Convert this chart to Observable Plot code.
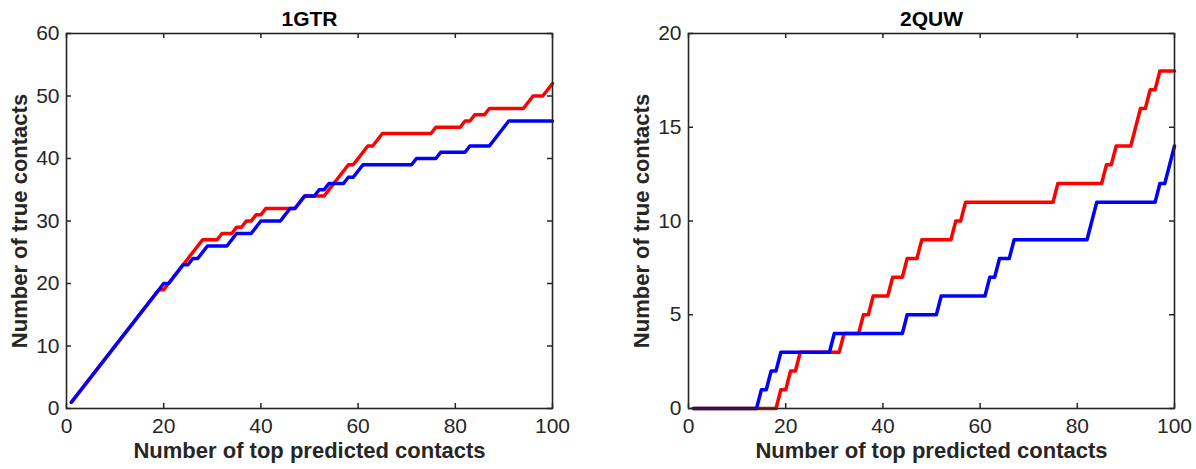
<!DOCTYPE html>
<html><head><meta charset="utf-8">
<script src="https://cdn.jsdelivr.net/npm/d3@7"></script>
<script src="https://cdn.jsdelivr.net/npm/@observablehq/plot@0.6"></script>
<style>
html,body{margin:0;padding:0;background:#fff;}
#wrap{position:relative;width:1196px;height:469px;overflow:hidden;background:#fff;}
#wrap svg{position:absolute;top:0;}
</style></head><body><div id="wrap"></div>
<script>
const topN = [1,2,3,4,5,6,7,8,9,10,11,12,13,14,15,16,17,18,19,20,21,22,23,24,25,26,27,28,29,30,31,32,33,34,35,36,37,38,39,40,41,42,43,44,45,46,47,48,49,50,51,52,53,54,55,56,57,58,59,60,61,62,63,64,65,66,67,68,69,70,71,72,73,74,75,76,77,78,79,80,81,82,83,84,85,86,87,88,89,90,91,92,93,94,95,96,97,98,99,100];

const gtrRed = [1,2,3,4,5,6,7,8,9,10,11,12,13,14,15,16,17,18,19,19,
  20,21,22,23,24,25,26,27,27,27,27,28,28,28,29,29,30,30,31,31,
  32,32,32,32,32,32,32,33,34,34,34,34,34,35,36,37,38,39,39,40,
  41,42,42,43,44,44,44,44,44,44,44,44,44,44,44,45,45,45,45,45,
  45,46,46,47,47,47,48,48,48,48,48,48,48,48,49,50,50,50,51,52];

const gtrBlue = [1,2,3,4,5,6,7,8,9,10,11,12,13,14,15,16,17,18,19,20,
  20,21,22,23,23,24,24,25,26,26,26,26,26,27,28,28,28,28,29,30,
  30,30,30,30,31,32,32,33,34,34,34,35,35,36,36,36,36,37,37,38,
  39,39,39,39,39,39,39,39,39,39,39,40,40,40,40,40,41,41,41,41,
  41,41,42,42,42,42,42,43,44,45,46,46,46,46,46,46,46,46,46,46];

const quwRed = [0,0,0,0,0,0,0,0,0,0,0,0,0,0,0,0,0,0,1,1,
  2,2,3,3,3,3,3,3,3,3,3,4,4,4,4,5,5,6,6,6,
  6,7,7,7,8,8,8,9,9,9,9,9,9,9,10,10,11,11,11,11,
  11,11,11,11,11,11,11,11,11,11,11,11,11,11,11,12,12,12,12,12,
  12,12,12,12,12,13,13,14,14,14,14,15,16,16,17,17,18,18,18,18];

const quwBlue = [0,0,0,0,0,0,0,0,0,0,0,0,0,0,1,1,2,2,3,3,
  3,3,3,3,3,3,3,3,3,4,4,4,4,4,4,4,4,4,4,4,
  4,4,4,4,5,5,5,5,5,5,5,6,6,6,6,6,6,6,6,6,
  6,7,7,8,8,8,9,9,9,9,9,9,9,9,9,9,9,9,9,9,
  9,9,10,11,11,11,11,11,11,11,11,11,11,11,11,11,12,12,13,14];

const xTicks = [0,20,40,60,80,100];
const gtrYTicks = [0,10,20,30,40,50,60];
const quwYTicks = [0,5,10,15,20];
const xLabel = "Number of top predicted contacts";
const yLabel = "Number of true contacts";

const ink = "#262626";

function panel({left, width, marginLeft, marginRight, yMax, yTicks, red, blue, title}) {
  const marginTop = 33, marginBottom = 61, height = 469;
  const innerW = width - marginLeft - marginRight;
  const innerH = height - marginTop - marginBottom;
  const tick = 5;
  const rows = topN.map((n, i) => ({n, red: red[i], blue: blue[i]}));
  const svg = Plot.plot({
    width, height, marginLeft, marginRight, marginTop, marginBottom,
    style: {fontFamily: "'Liberation Sans', Arial, sans-serif", fontSize: "21px", color: ink, background: "#fff"},
    x: {domain: [0, 100]},
    y: {domain: [0, yMax]},
    marks: [
      Plot.line(rows, {x: "n", y: "red", stroke: "#ff0000", strokeWidth: 3.5}),
      Plot.line(rows, {x: "n", y: "blue", stroke: "#0000ff", strokeWidth: 3.5}),
      Plot.tickX(xTicks, {x: d => d, insetTop: innerH - tick, stroke: ink, strokeWidth: 1.5}),
      Plot.tickX(xTicks, {x: d => d, insetBottom: innerH - tick, stroke: ink, strokeWidth: 1.5}),
      Plot.tickY(yTicks, {y: d => d, insetRight: innerW - tick, stroke: ink, strokeWidth: 1.5}),
      Plot.tickY(yTicks, {y: d => d, insetLeft: innerW - tick, stroke: ink, strokeWidth: 1.5}),
      Plot.frame({stroke: ink, strokeWidth: 1.6}),
      Plot.axisX(xTicks, {tickSize: 0, tickPadding: 10, label: null, fill: ink, fontSize: 21}),
      Plot.axisY(yTicks, {tickSize: 0, tickPadding: 7, label: null, fill: ink, fontSize: 21}),
      Plot.text([xLabel], {frameAnchor: "bottom", dy: 49, fontWeight: "bold", fontSize: 22, fill: ink}),
      Plot.text([yLabel], {frameAnchor: "left", textAnchor: "middle", dx: -47, rotate: -90, fontWeight: "bold", fontSize: 22, fill: ink}),
      Plot.text([title], {frameAnchor: "top", dy: -22, fontWeight: "bold", fontSize: 21, fill: "#000"})
    ]
  });
  svg.style.left = left + "px";
  document.getElementById("wrap").append(svg);
}

panel({left: 0, width: 598, marginLeft: 66, marginRight: 46, yMax: 60, yTicks: gtrYTicks, red: gtrRed, blue: gtrBlue, title: "1GTR"});
panel({left: 598, width: 598, marginLeft: 90, marginRight: 22, yMax: 20, yTicks: quwYTicks, red: quwRed, blue: quwBlue, title: "2QUW"});
</script>
</body></html>
